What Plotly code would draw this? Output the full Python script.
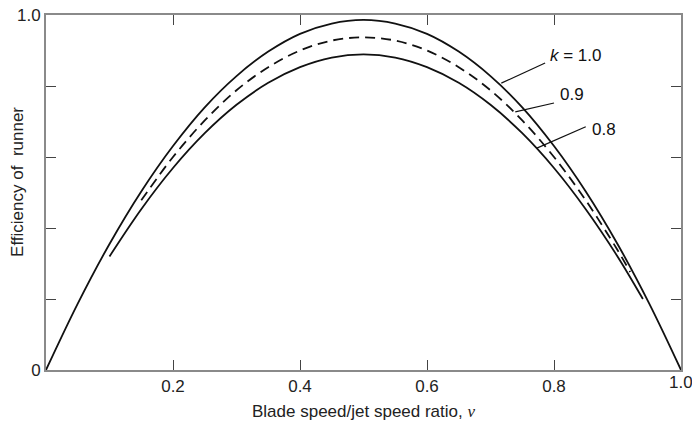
import plotly.graph_objects as go

# Data
nu_k10 = [0.0, 0.05, 0.1, 0.15, 0.2, 0.25, 0.3, 0.35, 0.4, 0.45, 0.5, 0.55, 0.6, 0.65, 0.7, 0.75, 0.8, 0.85, 0.9, 0.95, 1.0]
eff_k10 = [0.0, 0.187, 0.355, 0.503, 0.631, 0.740, 0.828, 0.897, 0.947, 0.976, 0.986, 0.976, 0.947, 0.897, 0.828, 0.740, 0.631, 0.503, 0.355, 0.187, 0.0]

nu_k09 = [0.15, 0.2, 0.25, 0.3, 0.35, 0.4, 0.45, 0.5, 0.55, 0.6, 0.65, 0.7, 0.75, 0.8, 0.85, 0.9, 0.92]
eff_k09 = [0.478, 0.600, 0.703, 0.788, 0.853, 0.900, 0.928, 0.937, 0.928, 0.900, 0.853, 0.788, 0.703, 0.600, 0.478, 0.338, 0.276]

nu_k08 = [0.1, 0.15, 0.2, 0.25, 0.3, 0.35, 0.4, 0.45, 0.5, 0.55, 0.6, 0.65, 0.7, 0.75, 0.8, 0.85, 0.9, 0.94]
eff_k08 = [0.320, 0.453, 0.569, 0.667, 0.747, 0.809, 0.853, 0.880, 0.889, 0.880, 0.853, 0.809, 0.747, 0.667, 0.569, 0.453, 0.320, 0.200]

x_ticks = [0, 0.2, 0.4, 0.6, 0.8, 1.0]
x_labels = ["", "0.2", "0.4", "0.6", "0.8", "1.0"]
y_ticks = [0, 0.2, 0.4, 0.6, 0.8, 1.0]
y_labels = ["0", "", "", "", "", "1.0"]

labels = ["<i>k</i> = 1.0", "0.9", "0.8"]

FONT = "Liberation Sans, Arial"

fig = go.Figure()
fig.add_trace(go.Scatter(x=nu_k10, y=eff_k10, mode="lines", line=dict(color="#111", width=1.8, shape="spline")))
fig.add_trace(go.Scatter(x=nu_k09, y=eff_k09, mode="lines", line=dict(color="#111", width=1.8, dash="10px,6px", shape="spline")))
fig.add_trace(go.Scatter(x=nu_k08, y=eff_k08, mode="lines", line=dict(color="#111", width=1.8, shape="spline")))

# leader lines and labels
leaders = [((0.717, 0.808), (0.786, 0.865)), ((0.739, 0.727), (0.800, 0.752)), ((0.773, 0.625), (0.850, 0.685))]
text_pos = [(0.790, 0.885), (0.806, 0.775), (0.857, 0.678)]
for (p0, p1), (tx, ty), lab in zip(leaders, text_pos, labels):
    fig.add_shape(type="line", x0=p0[0], y0=p0[1], x1=p1[0], y1=p1[1], xref="x", yref="y",
                  line=dict(color="#111", width=1.2))
    fig.add_annotation(x=tx, y=ty, xref="x", yref="y", text=lab, showarrow=False,
                       xanchor="left", yanchor="middle", font=dict(size=17, color="#111", family=FONT))

fig.add_annotation(x=-0.044, y=0.53, xref="paper", yref="paper", text="Efficiency of  runner",
                   textangle=-90, showarrow=False, xanchor="center", yanchor="middle",
                   font=dict(size=17, color="#222", family=FONT))
fig.add_annotation(x=0.50, y=-0.1155, xref="paper", yref="paper",
                   text="Blade speed/jet speed ratio, <span style='font-family:Liberation Serif;font-style:italic'>ν</span>",
                   showarrow=False, xanchor="center", yanchor="middle",
                   font=dict(size=17, color="#222", family=FONT))
# last x tick label, which runs off the right edge in the original
fig.add_annotation(x=x_ticks[-1], y=-0.0366, xref="x", yref="paper", text=x_labels[-1],
                   showarrow=False, xanchor="center", yanchor="middle",
                   font=dict(size=17, color="#222", family=FONT))

axis_common = dict(showline=True, linecolor="#8a8a8a", linewidth=1.8, mirror="ticks",
                   ticks="inside", ticklen=10, tickcolor="#444", tickwidth=1.2,
                   showgrid=False, zeroline=False, automargin=False,
                   tickfont=dict(size=17, color="#222", family=FONT))

fig.update_xaxes(range=[0, 1], tickvals=x_ticks, ticktext=x_labels, **axis_common)
fig.update_yaxes(range=[0, 1], tickvals=y_ticks, ticktext=y_labels, **axis_common)

fig.update_layout(width=692, height=430, margin=dict(l=46, r=11, t=15, b=60, autoexpand=False),
                  paper_bgcolor="white", plot_bgcolor="white", showlegend=False)

fig.write_html("out.html", config={"displayModeBar": False},
               post_script="document.body.style.margin='0';document.body.style.overflow='hidden';")
